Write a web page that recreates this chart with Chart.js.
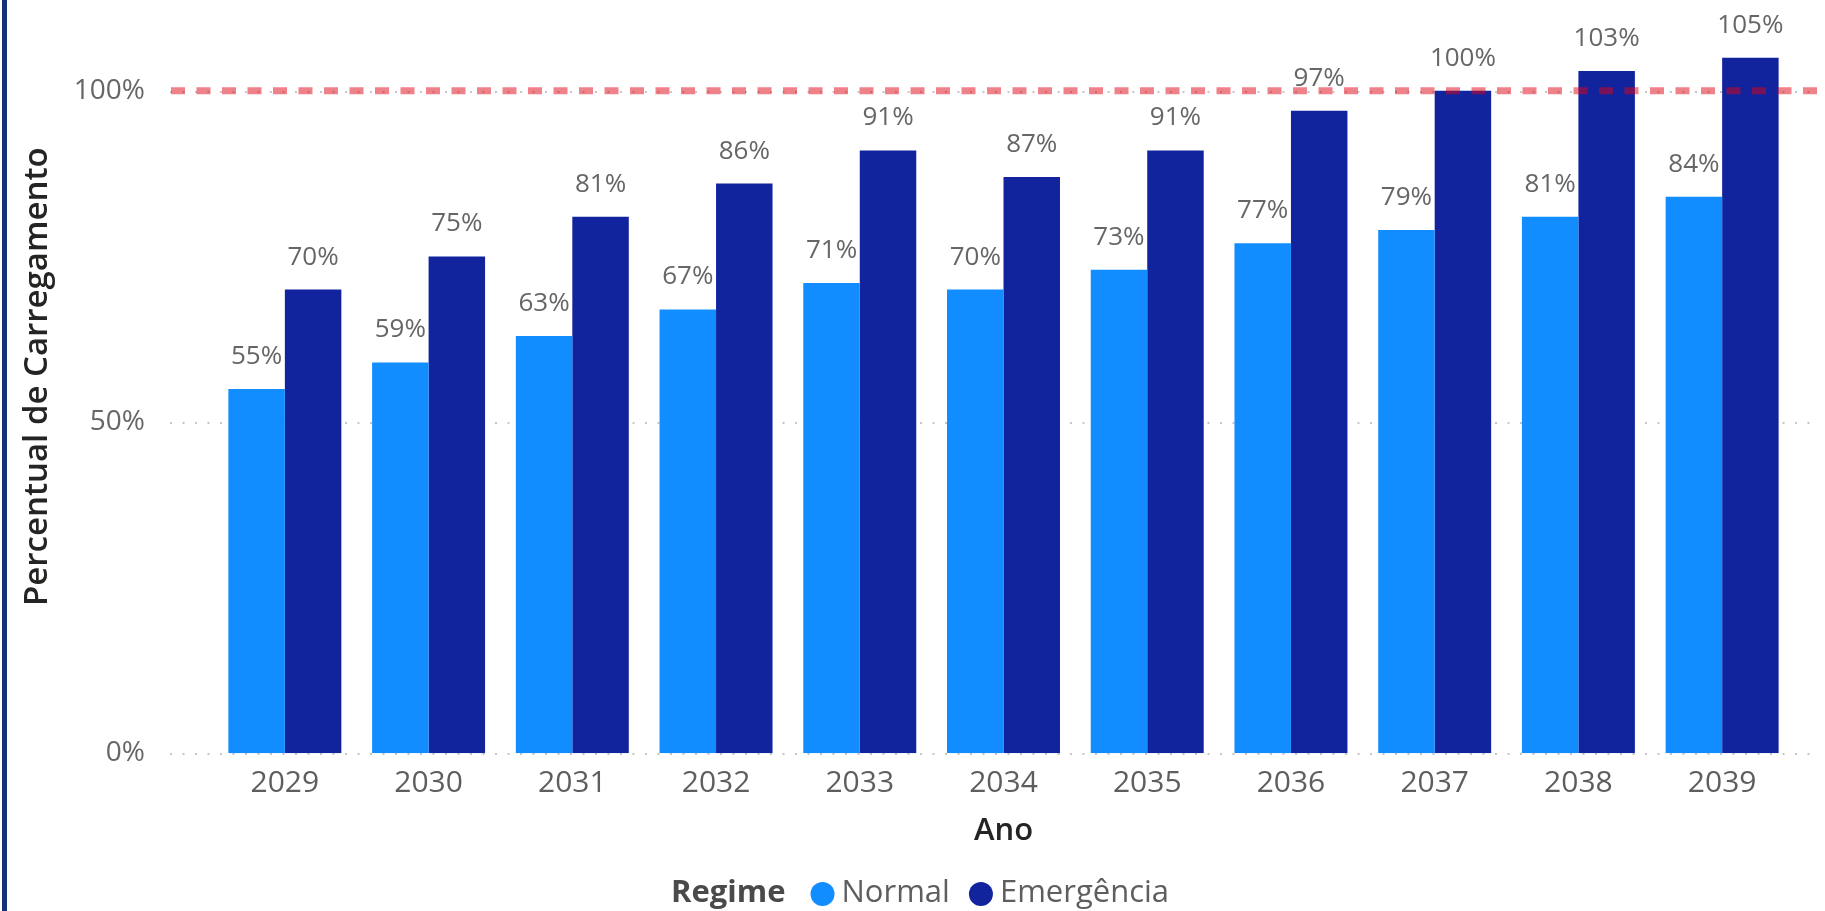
<!DOCTYPE html>
<html lang="pt-BR">
<head>
    <meta charset="UTF-8">
    <title>Percentual de Carregamento por Ano</title>
    <style>
        html, body {
            margin: 0;
            padding: 0;
            background: #ffffff;
        }
        #wrap {
            position: relative;
            width: 1825px;
            height: 911px;
        }
        #edge {
            position: absolute;
            left: 2px;
            top: 0;
            width: 5px;
            height: 911px;
            background: #15317a;
        }
    </style>
</head>
<body>
    <div id="wrap">
        <canvas id="chart" width="1825" height="911"></canvas>
        <div id="edge"></div>
    </div>

    <script src="https://cdn.jsdelivr.net/npm/chart.js"></script>
    <script>
        const anos = ['2029', '2030', '2031', '2032', '2033', '2034', '2035', '2036', '2037', '2038', '2039'];
        const normal = [55, 59, 63, 67, 71, 70, 73, 77, 79, 81, 84];
        const emergencia = [70, 75, 81, 86, 91, 87, 91, 97, 100, 103, 105];
        const limite = 100;
        const yTicks = [0, 50, 100];

        const fontFamily = '"Segoe UI", "Open Sans", "Noto Sans", sans-serif';

        // dotted horizontal grid, a bit wider than the plot area
        const dottedGrid = {
            id: 'dottedGrid',
            beforeDatasetsDraw(chart) {
                const ctx = chart.ctx;
                const y = chart.scales.y;
                ctx.save();
                ctx.strokeStyle = '#c8c6c4';
                ctx.lineWidth = 2;
                ctx.setLineDash([2, 10.5]);
                y.ticks.forEach(t => {
                    const py = Math.round(y.getPixelForValue(t.value)) + 1;
                    ctx.beginPath();
                    ctx.moveTo(170, py);
                    ctx.lineTo(1820, py);
                    ctx.stroke();
                });
                ctx.restore();
            }
        };

        // 100% reference line and the value labels above the bars
        const overlay = {
            id: 'overlay',
            afterDatasetsDraw(chart) {
                const ctx = chart.ctx;
                const y = chart.scales.y;
                const py = y.getPixelForValue(limite);

                ctx.save();
                ctx.strokeStyle = 'rgba(222, 4, 20, 0.5)';
                ctx.lineWidth = 7;
                ctx.setLineDash([14, 11.5]);
                ctx.beginPath();
                ctx.moveTo(171, py);
                ctx.lineTo(1825, py);
                ctx.stroke();
                ctx.restore();

                ctx.save();
                ctx.font = '26px ' + fontFamily;
                ctx.fillStyle = '#666666';
                ctx.textAlign = 'center';
                ctx.textBaseline = 'alphabetic';
                chart.data.datasets.forEach((ds, i) => {
                    const meta = chart.getDatasetMeta(i);
                    meta.data.forEach((bar, j) => {
                        ctx.fillText(ds.data[j] + '%', bar.x, bar.y - 25);
                    });
                });
                ctx.restore();
            }
        };

        // legend row: "Regime" then a dot and name per series
        const regimeLegend = {
            id: 'regimeLegend',
            afterDraw(chart) {
                const ctx = chart.ctx;
                const cy = 893;
                let x = 671;
                ctx.save();
                ctx.textBaseline = 'middle';
                ctx.textAlign = 'left';
                ctx.font = 'bold 31px ' + fontFamily;
                ctx.fillStyle = '#4a4a4a';
                ctx.fillText('Regime', x, cy);
                x += ctx.measureText('Regime').width + 25;

                ctx.font = '31px ' + fontFamily;
                chart.data.datasets.forEach(ds => {
                    ctx.fillStyle = ds.backgroundColor;
                    ctx.beginPath();
                    ctx.arc(x + 12, cy + 1, 12, 0, Math.PI * 2);
                    ctx.fill();
                    x += 31;
                    ctx.fillStyle = '#605e5c';
                    ctx.fillText(ds.label, x, cy);
                    x += ctx.measureText(ds.label).width + 19;
                });
                ctx.restore();
            }
        };

        new Chart(document.getElementById('chart'), {
            type: 'bar',
            data: {
                labels: anos,
                datasets: [
                    {
                        label: 'Normal',
                        data: normal,
                        backgroundColor: '#118dff'
                    },
                    {
                        label: 'Emergência',
                        data: emergencia,
                        backgroundColor: '#12239e'
                    }
                ]
            },
            options: {
                responsive: false,
                animation: false,
                layout: {
                    padding: { left: 10, right: 31, top: 0, bottom: 51 }
                },
                datasets: {
                    bar: {
                        categoryPercentage: 0.786,
                        barPercentage: 1.0
                    }
                },
                plugins: {
                    legend: { display: false },
                    tooltip: { enabled: false }
                },
                scales: {
                    x: {
                        grid: { display: false, drawTicks: false },
                        border: { display: false },
                        ticks: {
                            padding: 12,
                            color: '#605e5c',
                            font: { family: fontFamily, size: 30 }
                        },
                        title: {
                            display: true,
                            text: 'Ano',
                            color: '#252423',
                            font: { family: fontFamily, size: 31, weight: '600' },
                            padding: { top: 4, bottom: 10 }
                        },
                        afterFit(s) {
                            s.height = 106.7;
                            s.paddingLeft = 0;
                            s.paddingRight = 0;
                        }
                    },
                    y: {
                        min: 0,
                        max: 113.7,
                        grid: { display: false, drawTicks: false },
                        border: { display: false },
                        afterBuildTicks(s) {
                            s.ticks = yTicks.map(v => ({ value: v }));
                        },
                        ticks: {
                            padding: 68,
                            color: '#666666',
                            font: { family: fontFamily, size: 28 },
                            callback: v => v + '%'
                        },
                        title: {
                            display: true,
                            text: 'Percentual de Carregamento',
                            color: '#252423',
                            font: { family: fontFamily, size: 33, weight: '600' },
                            padding: 8
                        },
                        afterFit(s) {
                            s.width = 203;
                            s.paddingTop = 0;
                            s.paddingBottom = 0;
                        }
                    }
                }
            },
            plugins: [dottedGrid, overlay, regimeLegend]
        });
    </script>
</body>
</html>
